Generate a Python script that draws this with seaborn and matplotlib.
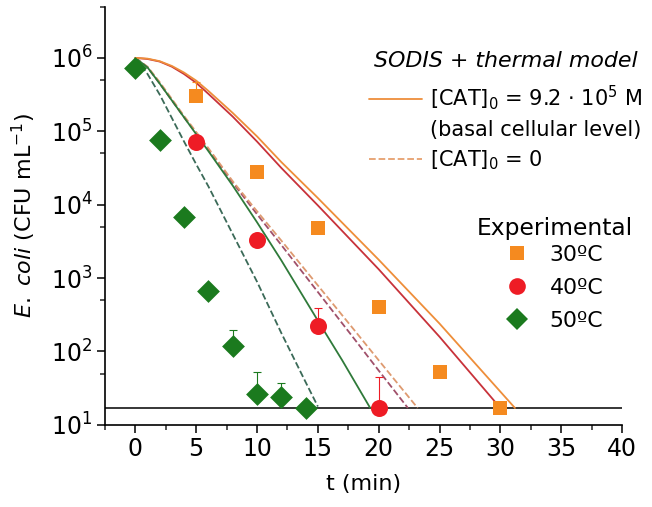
import numpy as np
import pandas as pd
import matplotlib
matplotlib.use('Agg')
import matplotlib.pyplot as plt
from matplotlib.lines import Line2D
from matplotlib.ticker import FixedLocator, NullFormatter
import seaborn as sns

# Datos experimentales (CFU/mL)
t30 = [5, 10, 15, 20, 25, 30]
n30 = [3.0e5, 2.8e4, 4.8e3, 400, 52, 17]
t40 = [5, 10, 15, 20]
n40 = [7.2e4, 3.3e3, 220, 17]
t50 = [0, 2, 4, 6, 8, 10, 12, 14]
n50 = [7.2e5, 7.6e4, 6.9e3, 660, 117, 26, 24, 17]

# barras de error (solo hacia arriba): t, valor, limite superior
err30 = ([5], [3.0e5], [4.7e5])
err40 = ([15, 20], [220, 17], [390, 45])
err50 = ([8, 10, 12], [117, 26, 24], [195, 52, 37])

# Modelo SODIS + termico, log10(CFU/mL)
tm_or = [0, 1, 2, 3, 4, 5, 6, 8, 10, 12, 15, 20, 25, 31.2]
lm_or = [6.0, 5.99, 5.955, 5.89, 5.80, 5.69, 5.55, 5.25, 4.93, 4.58, 4.09, 3.25, 2.38, 1.23]
tm_rd = [0, 1, 2, 3, 4, 5, 6, 8, 10, 12, 15, 20, 25, 30]
lm_rd = [6.0, 5.985, 5.95, 5.88, 5.78, 5.66, 5.51, 5.20, 4.86, 4.50, 3.99, 3.12, 2.20, 1.23]
tm_gr = [0, 1, 2, 3, 4, 5, 6, 8, 10, 12, 15, 17, 19.3]
lm_gr = [6.0, 5.87, 5.65, 5.42, 5.19, 4.96, 4.73, 4.26, 3.76, 3.24, 2.42, 1.88, 1.23]

# [CAT]0 = 0 (discontinuas)
td_or = [0, 1, 2, 3, 4, 5, 6, 8, 10, 12, 15, 18, 20, 23.2]
ld_or = [6.0, 5.88, 5.67, 5.44, 5.21, 4.99, 4.77, 4.32, 3.91, 3.51, 2.9, 2.29, 1.88, 1.23]
td_rd = [0, 1, 2, 3, 4, 5, 6, 8, 10, 12, 15, 18, 20, 22.4]
ld_rd = [6.0, 5.87, 5.65, 5.42, 5.19, 4.97, 4.75, 4.3, 3.87, 3.45, 2.81, 2.17, 1.74, 1.23]
td_gr = [0, 1, 2, 3, 4, 5, 6, 8, 10, 12, 14, 15]
ld_gr = [6.0, 5.78, 5.5, 5.18, 4.86, 4.55, 4.25, 3.6, 2.95, 2.25, 1.58, 1.25]

lim_det = 17

c_or = '#F58A1F'
c_rd = '#EE1C25'
c_gr = '#1B7A1E'

sns.set_style('ticks')
plt.rcParams['font.family'] = ['DejaVu Sans']
plt.rcParams['mathtext.fontset'] = 'dejavusans'
plt.rcParams['text.color'] = 'black'
plt.rcParams['axes.labelcolor'] = 'black'

fig = plt.figure(figsize=(6.52, 5.07), dpi=100)
ax = fig.add_axes([0.161, 0.162, 0.793, 0.825])

# curvas del modelo
curvas = [
    (td_gr, ld_gr, '#3B6A58', '--'),
    (td_rd, ld_rd, '#A0506A', '--'),
    (td_or, ld_or, '#DE9A70', '--'),
    (tm_gr, lm_gr, '#2F7A3A', '-'),
    (tm_rd, lm_rd, '#C8323A', '-'),
    (tm_or, lm_or, '#EE8E3A', '-'),
]
for tt, ll, col, ls in curvas:
    df = pd.DataFrame({'t': tt, 'N': 10 ** np.array(ll)})
    sns.lineplot(data=df, x='t', y='N', ax=ax, color=col, lw=1.3,
                 linestyle=ls, zorder=2)

ax.axhline(lim_det, color='black', lw=1.1, zorder=1)

# barras de error
for (te, ne, up), col in [(err30, c_or), (err40, c_rd), (err50, c_gr)]:
    ne = np.array(ne)
    ax.errorbar(te, ne, yerr=[np.zeros_like(ne), np.array(up) - ne], fmt='none',
                ecolor=col, elinewidth=0.8, capsize=3, capthick=0.8, zorder=3)

# puntos experimentales
sns.scatterplot(x=t30, y=n30, ax=ax, marker='s', s=105, color=c_or, linewidth=0, zorder=4)
sns.scatterplot(x=t40, y=n40, ax=ax, marker='o', s=150, color=c_rd, linewidth=0, zorder=4)
sns.scatterplot(x=t50, y=n50, ax=ax, marker='D', s=135, color=c_gr, linewidth=0, zorder=5)

ax.set_yscale('log')
ax.set_xlim(-2.5, 40)
ax.set_ylim(10, 5e6)
ax.set_xticks(range(0, 41, 5))
ax.xaxis.set_minor_locator(FixedLocator(np.arange(-2.5, 40, 5)))
ax.yaxis.set_minor_locator(FixedLocator([5e1, 5e2, 5e3, 5e4, 5e5, 5e6]))
ax.yaxis.set_minor_formatter(NullFormatter())

ax.tick_params(which='major', direction='out', length=6, width=1.1, labelsize=17,
               colors='black', pad=3)
ax.tick_params(which='minor', direction='out', length=3.5, width=1.1)
for s in ['left', 'bottom']:
    ax.spines[s].set_linewidth(1.2)
    ax.spines[s].set_color('black')
sns.despine(ax=ax)

ax.set_xlabel('t (min)', fontsize=16, labelpad=9)
ax.set_ylabel(r'$\mathit{E.\ coli}$ (CFU mL$^{-1}$)', fontsize=16, labelpad=9)

# leyenda del modelo
h_mod = [Line2D([], [], color='#EE8E3A', lw=1.3),
         Line2D([], [], color='none'),
         Line2D([], [], color='#E6A06E', lw=1.3, linestyle='--')]
l_mod = [r'[CAT]$_0$ = 9.2 $\cdot$ 10$^5$ M', '(basal cellular level)', r'[CAT]$_0$ = 0']
leg1 = ax.legend(h_mod, l_mod, loc='upper right', bbox_to_anchor=(1.039, 0.894),
                 frameon=False, fontsize=15, handlelength=2.55, handletextpad=0.4,
                 labelspacing=0.38, borderpad=0, borderaxespad=0,
                 title='SODIS + thermal model',
                 title_fontproperties={'size': 15.9, 'style': 'italic'})
leg1._legend_box.sep = 9
ax.add_artist(leg1)

# leyenda experimental
h_exp = [Line2D([], [], marker='s', color=c_or, ls='none', markersize=10, mew=0),
         Line2D([], [], marker='o', color=c_rd, ls='none', markersize=12, mew=0),
         Line2D([], [], marker='D', color=c_gr, ls='none', markersize=11, mew=0)]
l_exp = ['30ºC', '40ºC', '50ºC']
leg2 = ax.legend(h_exp, l_exp, loc='upper right', bbox_to_anchor=(1.021, 0.498),
                 frameon=False, fontsize=15.8, handlelength=1.0, handletextpad=1.0,
                 labelspacing=0.58, borderpad=0, borderaxespad=0,
                 title='Experimental', title_fontproperties={'size': 16.8})
leg2._legend_box.sep = 4

fig.savefig('out.png', dpi=100)
